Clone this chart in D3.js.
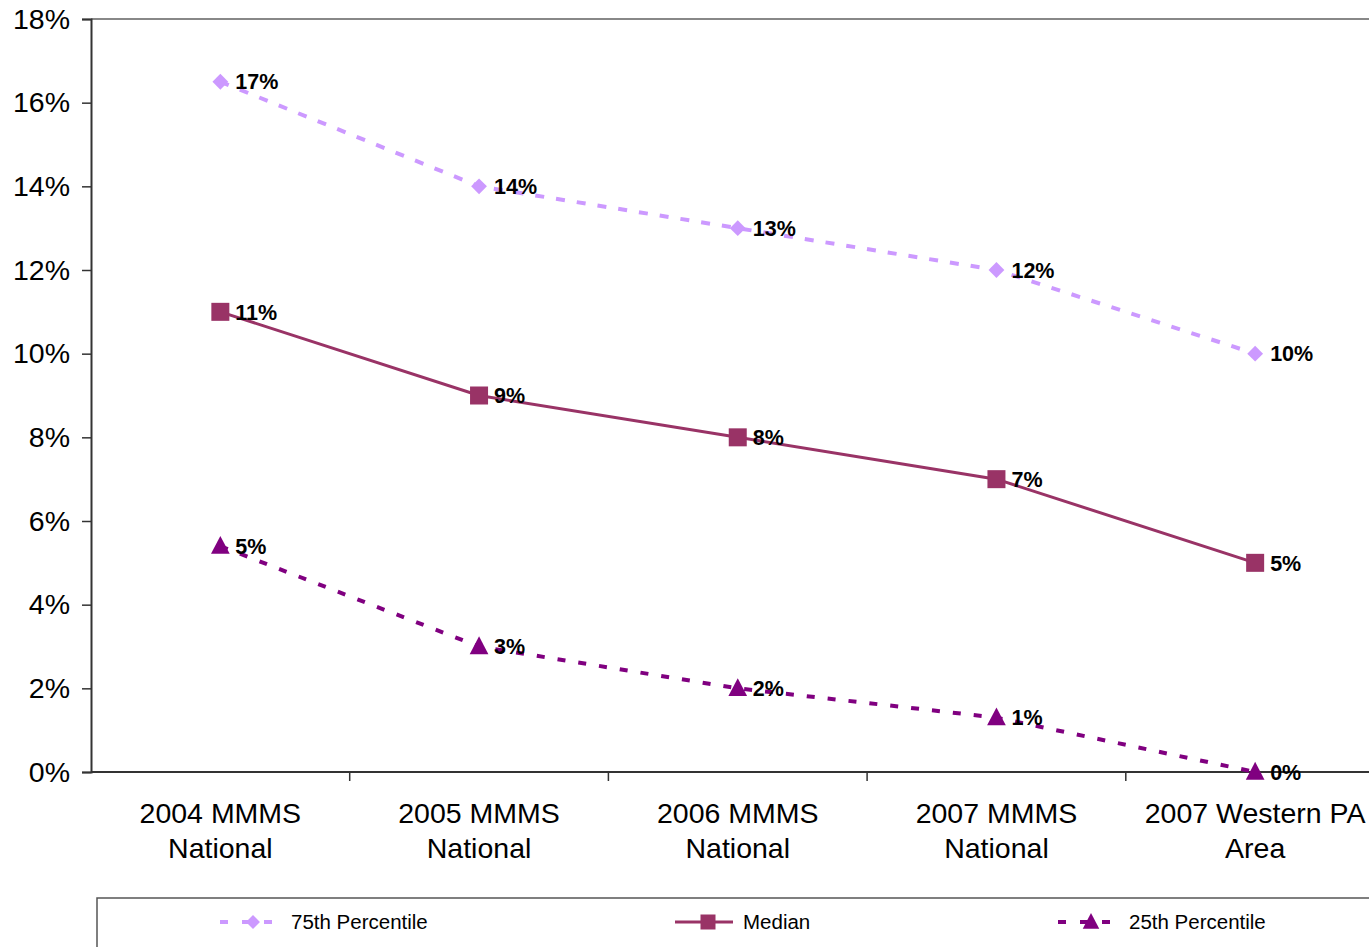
<!DOCTYPE html>
<html>
<head>
<meta charset="utf-8">
<script src="https://cdn.jsdelivr.net/npm/d3@7"></script>
<style>
  body { margin: 0; background: #fff; }
  svg { display: block; font-family: "Liberation Sans", Arial, sans-serif; }
</style>
</head>
<body>
<svg id="chart" width="1369" height="947"></svg>
<script>
// Chart data
const categories = [
    ["2004 MMMS", "National"],
    ["2005 MMMS", "National"],
    ["2006 MMMS", "National"],
    ["2007 MMMS", "National"],
    ["2007 Western PA", "Area"]
];
const p75 = [16.5, 14.0, 13.0, 12.0, 10.0];
const median = [11.0, 9.0, 8.0, 7.0, 5.0];
const p25 = [5.4, 3.0, 2.0, 1.3, 0.0];
const yTicks = [0, 2, 4, 6, 8, 10, 12, 14, 16, 18];

const series = [
    { name: "75th Percentile", values: p75, color: "#cc99ff", dash: "9,12", width: 4, marker: "diamond" },
    { name: "Median", values: median, color: "#993366", dash: null, width: 3, marker: "square" },
    { name: "25th Percentile", values: p25, color: "#800080", dash: "8,13", width: 4, marker: "triangle" }
];

const svg = d3.select("#chart");
const plotLeft = 91, plotTop = 19, plotBottom = 772;
const bandW = 258.7;

const x = d3.scaleBand()
    .domain(d3.range(categories.length))
    .range([plotLeft, plotLeft + bandW * categories.length]);
const y = d3.scaleLinear().domain([0, 18]).range([plotBottom, plotTop]);
const cx = i => x(i) + x.bandwidth() / 2;

// frame: top border
svg.append("line")
    .attr("x1", plotLeft).attr("x2", 1369)
    .attr("y1", plotTop).attr("y2", plotTop)
    .attr("stroke", "#888").attr("stroke-width", 2);

// y axis
const yAxis = svg.append("g")
    .attr("transform", `translate(${plotLeft},0)`)
    .call(d3.axisLeft(y).tickValues(yTicks).tickFormat(d => d + "%").tickSize(9).tickPadding(12));
yAxis.select(".domain").attr("stroke", "#333").attr("stroke-width", 2);
yAxis.selectAll(".tick line").attr("stroke", "#333").attr("stroke-width", 1.5);
yAxis.selectAll("text").attr("font-size", 28.5).attr("fill", "#000")
    .attr("font-family", "Liberation Sans, Arial, sans-serif");

// x axis line and ticks at band boundaries
svg.append("line")
    .attr("x1", plotLeft).attr("x2", 1369)
    .attr("y1", plotBottom).attr("y2", plotBottom)
    .attr("stroke", "#333").attr("stroke-width", 2);
svg.selectAll(".xtick")
    .data(d3.range(1, categories.length))
    .join("line")
    .attr("class", "xtick")
    .attr("x1", d => x(d)).attr("x2", d => x(d))
    .attr("y1", plotBottom).attr("y2", plotBottom + 9)
    .attr("stroke", "#333").attr("stroke-width", 1.5);

// category labels
const catText = svg.selectAll(".cat")
    .data(categories)
    .join("text")
    .attr("class", "cat")
    .attr("x", (d, i) => cx(i))
    .attr("y", 823)
    .attr("text-anchor", "middle")
    .attr("font-size", 28.5)
    .attr("fill", "#000");
catText.each(function (d, i) {
    const t = d3.select(this);
    d.forEach((line, k) => {
        t.append("tspan").attr("x", cx(i)).attr("dy", k === 0 ? 0 : 35).text(line);
    });
});

// marker drawing
function drawMarker(sel, type, size, color) {
    if (type === "diamond") {
        sel.append("path").attr("d", d3.symbol(d3.symbolDiamond2, size * size * 0.55)()).attr("fill", color);
    } else if (type === "square") {
        sel.append("rect").attr("x", -size / 2).attr("y", -size / 2)
            .attr("width", size).attr("height", size).attr("fill", color);
    } else {
        sel.append("path").attr("d", `M0,${-size * 0.6}L${size * 0.55},${size * 0.45}L${-size * 0.55},${size * 0.45}Z`)
            .attr("fill", color);
    }
}

const markerSize = { diamond: 17, square: 18, triangle: 17 };

const line = d3.line().x((d, i) => cx(i)).y(d => y(d));

series.forEach(s => {
    const g = svg.append("g");
    g.append("path")
        .datum(s.values)
        .attr("d", line)
        .attr("fill", "none")
        .attr("stroke", s.color)
        .attr("stroke-width", s.width)
        .attr("stroke-dasharray", s.dash);

    s.values.forEach((v, i) => {
        const m = g.append("g").attr("transform", `translate(${cx(i)},${y(v)})`);
        drawMarker(m, s.marker, markerSize[s.marker], s.color);
    });

    g.selectAll(".lbl")
        .data(s.values)
        .join("text")
        .attr("class", "lbl")
        .attr("x", (d, i) => cx(i) + 15)
        .attr("y", d => y(d))
        .attr("dy", "0.36em")
        .attr("font-size", 21.5)
        .attr("font-weight", "bold")
        .attr("fill", "#000")
        .text(d => Math.round(d) + "%");
});

// legend
const legendY = 922;
svg.append("rect")
    .attr("x", 97).attr("y", 898)
    .attr("width", 1300).attr("height", 80)
    .attr("fill", "none").attr("stroke", "#555").attr("stroke-width", 1.5);

const legendX = [220, 675, 1058];
series.forEach((s, i) => {
    const g = svg.append("g").attr("transform", `translate(${legendX[i]},${legendY})`);
    g.append("line")
        .attr("x1", 0).attr("x2", 58)
        .attr("y1", 0).attr("y2", 0)
        .attr("stroke", s.color)
        .attr("stroke-width", s.width)
        .attr("stroke-dasharray", s.dash ? "8,14" : null);
    const m = g.append("g").attr("transform", "translate(33,0)");
    drawMarker(m, s.marker, 15, s.color);
    g.append("text")
        .attr("x", s.dash ? 71 : 68)
        .attr("y", 0)
        .attr("dy", "0.36em")
        .attr("font-size", 20.5)
        .attr("fill", "#000")
        .text(s.name);
});
</script>
</body>
</html>
